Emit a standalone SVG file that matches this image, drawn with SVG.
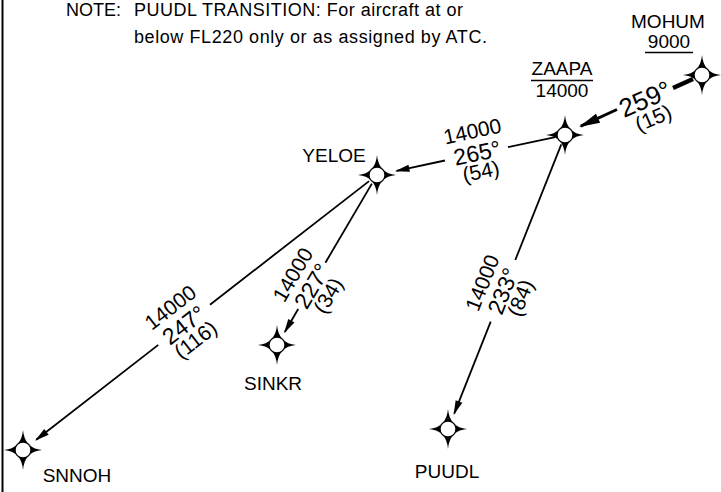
<svg xmlns="http://www.w3.org/2000/svg" width="721" height="492" viewBox="0 0 721 492">
  <style>
    text { font-family: "Liberation Sans", Arial, sans-serif; fill: #000; }
    .note { font-size: 18px; }
    .name { font-size: 19px; text-anchor: middle; }
    .alt { font-size: 21px; text-anchor: middle; }
    .crs { font-size: 23px; text-anchor: middle; }
    .crsB { font-size: 26px; text-anchor: middle; }
    .leg { stroke: #000; stroke-width: 1.8; fill: none; }
    .legB { stroke: #000; stroke-width: 4.5; fill: none; }
    .legM { stroke: #000; stroke-width: 3; fill: none; }
    .rule { stroke: #000; stroke-width: 1.5; }
  </style>
  <defs>
    <marker id="arr" viewBox="-15 -5 18 10" markerWidth="18" markerHeight="10" refX="0" refY="0" orient="auto" markerUnits="userSpaceOnUse">
      <path d="M1.5,0 L-13,-3.6 L-13,3.6 Z" fill="#000"/>
    </marker>
    <marker id="arrB" viewBox="-22 -6 25 12" markerWidth="25" markerHeight="12" refX="0" refY="0" orient="auto" markerUnits="userSpaceOnUse">
      <path d="M2,0 L-19,-5 L-19,5 Z" fill="#000"/>
    </marker>
    <g id="fix">
      <path d="M0,-20 Q1.6,-1.6 19,0 Q1.6,1.6 0,20 Q-1.6,1.6 -19,0 Q-1.6,-1.6 0,-20 Z" fill="#000"/>
      <circle r="8" fill="#fff" stroke="#000" stroke-width="1.3"/>
    </g>
  </defs>

  <rect width="721" height="492" fill="#fff"/>
  <line x1="2.5" y1="0" x2="2.5" y2="492" stroke="#000" stroke-width="2"/>

  <g id="note">
    <text class="note" x="66" y="16">NOTE:</text>
    <text class="note" x="134" y="16" textLength="329" lengthAdjust="spacing">PUUDL TRANSITION: For aircraft at or</text>
    <text class="note" x="134" y="42.5" textLength="353" lengthAdjust="spacing">below FL220 only or as assigned by ATC.</text>
  </g>

  <g id="connectors">
    <!-- MOHUM to ZAAPA -->
    <line class="legB" x1="693" y1="79" x2="673" y2="88"/>
    <line class="legM" x1="617" y1="109.5" x2="580.8" y2="126.2" marker-end="url(#arrB)"/>
    <g transform="translate(645,99) rotate(-23.6)">
      <text class="crsB" x="0" y="9">259°</text>
      <text class="alt" x="0" y="28">(15)</text>
    </g>
    <!-- ZAAPA to YELOE -->
    <line class="leg" x1="555.2" y1="137.1" x2="508" y2="147.1"/>
    <line class="leg" x1="445" y1="160.5" x2="396.5" y2="170.9" marker-end="url(#arr)"/>
    <g transform="translate(477,153) rotate(-12)">
      <text class="alt" x="0" y="-15">14000</text>
      <text class="crs" x="0" y="8">265°</text>
      <text class="alt" x="0" y="26">(54)</text>
    </g>
    <!-- ZAAPA to PUUDL -->
    <line class="leg" x1="561.3" y1="144.3" x2="515.3" y2="260"/>
    <line class="leg" x1="490.7" y1="321.7" x2="454.2" y2="413.6" marker-end="url(#arr)"/>
    <g transform="translate(503,291) rotate(-68.3)">
      <text class="alt" x="0" y="-15">14000</text>
      <text class="crs" x="0" y="8">233°</text>
      <text class="alt" x="0" y="26">(84)</text>
    </g>
    <!-- YELOE to SINKR -->
    <line class="leg" x1="371.9" y1="183.6" x2="325.4" y2="262.7"/>
    <line class="leg" x1="298.2" y1="309" x2="284.8" y2="332" marker-end="url(#arr)"/>
    <g transform="translate(312,286) rotate(-59.5)">
      <text class="alt" x="0" y="-15">14000</text>
      <text class="crs" x="0" y="8">227°</text>
      <text class="alt" x="0" y="26">(34)</text>
    </g>
    <!-- YELOE to SNNOH -->
    <line class="leg" x1="369.1" y1="181.1" x2="210" y2="304.7"/>
    <line class="leg" x1="158.3" y1="344.9" x2="36.2" y2="439.8" marker-end="url(#arr)"/>
    <g transform="translate(184,325) rotate(-37.8)">
      <text class="alt" x="0" y="-15">14000</text>
      <text class="crs" x="0" y="8">247°</text>
      <text class="alt" x="0" y="26">(116)</text>
    </g>
  </g>

  <g id="MOHUM">
    <use href="#fix" x="702" y="75"/>
    <text class="name" x="668" y="28">MOHUM</text>
    <text class="name" x="669" y="48">9000</text>
    <line class="rule" x1="645" y1="52.5" x2="693" y2="52.5"/>
  </g>
  <g id="ZAAPA">
    <use href="#fix" x="565" y="135"/>
    <text class="name" x="562" y="75">ZAAPA</text>
    <line class="rule" x1="531" y1="80.5" x2="593" y2="80.5"/>
    <text class="name" x="562" y="97">14000</text>
  </g>
  <g id="YELOE">
    <use href="#fix" x="377" y="175"/>
    <text class="name" x="334" y="162">YELOE</text>
  </g>
  <g id="SINKR">
    <use href="#fix" x="277" y="345"/>
    <text class="name" x="273" y="390">SINKR</text>
  </g>
  <g id="PUUDL">
    <use href="#fix" x="448" y="429"/>
    <text class="name" x="447" y="478">PUUDL</text>
  </g>
  <g id="SNNOH">
    <use href="#fix" x="23" y="450"/>
    <text class="name" x="77" y="482">SNNOH</text>
  </g>
</svg>
